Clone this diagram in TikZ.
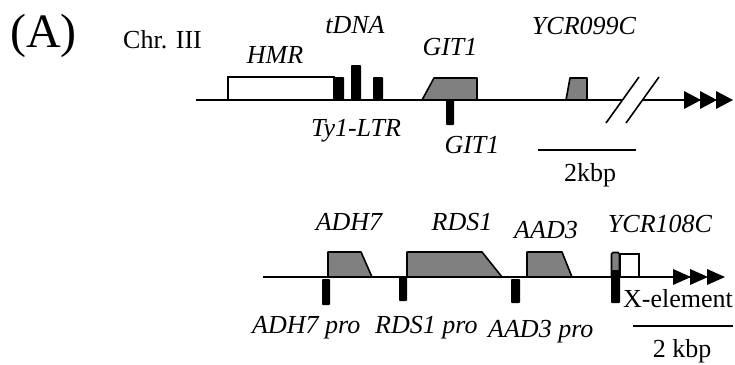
\documentclass[tikz,border=0pt]{standalone}
\usepackage{fontspec}
\setmainfont{Liberation Serif}
\newfontfamily\labfont{Liberation Serif}
\definecolor{genegray}{HTML}{808080}
\begin{document}
\begin{tikzpicture}[x=1pt,y=-1pt,
  lab/.style={font=\labfont\fontsize{26}{30}\selectfont\itshape, inner sep=0pt, anchor=base},
  rlab/.style={font=\labfont\fontsize{26}{30}\selectfont, inner sep=0pt, anchor=base},
  chrom/.style={line width=1.6pt},
  gene/.style={draw=black, line width=1.6pt, fill=genegray, line join=round},
  box/.style={draw=black, line width=1.6pt, fill=white},
  bar/.style={fill=black, rounded corners=0.8pt},
  scalebar/.style={line width=1.6pt},
  tri/.style={fill=black}
]
\useasboundingbox (0,0) rectangle (735,364);

% ---------- labels ----------
\node[font=\fontsize{48}{52}\selectfont, inner sep=0pt, anchor=base west] (A) at (10,47) {(A)};
\node[rlab, anchor=base west] (chr) at (123,48) {Chr. III};

% ---------- Chr. III row ----------
\coordinate (c1s) at (196,100);
\coordinate (c1b) at (622,100);
\coordinate (c1c) at (642,100);
\coordinate (c1e) at (700,100);
\draw[chrom] (c1s) -- (c1b);
\draw[chrom] (c1c) -- (c1e);
% break marks
\draw[line width=1.6pt] (606,123) -- (639,77);
\draw[line width=1.6pt] (626,123) -- (659,77);
% triple arrowhead
\fill[tri] (684,91) -- (701,100) -- (684,109) -- cycle;
\fill[tri] (700,91) -- (717,100) -- (700,109) -- cycle;
\fill[tri] (716,91) -- (733,100) -- (716,109) -- cycle;

\draw[box] (228,77) rectangle (334,100);
\fill[bar] (334,77) rectangle (344,100);
\fill[bar] (351,65) rectangle (361,100);
\fill[bar] (373,77) rectangle (383,100);
\draw[gene] (422,100) -- (434,78) -- (477,78) -- (477,100) -- cycle;
\fill[bar] (446,100) rectangle (454,125);
\draw[gene] (566,100) -- (570,78) -- (587,78) -- (587,100) -- cycle;

\node[lab] (hmr) at (275,63) {HMR};
\node[lab] (tdna) at (355,33) {tDNA};
\node[lab] (git1a) at (450,55) {GIT1};
\node[lab] (ycr099) at (584,34) {YCR099C};
\node[lab] (ty1) at (356,136) {Ty1-LTR};
\node[lab] (git1b) at (472,153) {GIT1};

\draw[scalebar] (538,150) -- (636,150);
\node[rlab] (kb1) at (590,181) {2kbp};

% ---------- second row ----------
\coordinate (c2s) at (263,277);
\coordinate (c2e) at (690,277);
\draw[chrom] (c2s) -- (c2e);
\fill[tri] (673,269) -- (691,277) -- (673,285) -- cycle;
\fill[tri] (690,269) -- (708,277) -- (690,285) -- cycle;
\fill[tri] (707,269) -- (725,277) -- (707,285) -- cycle;

\draw[gene] (328,277) -- (328,252) -- (361,252) -- (372,277) -- cycle;
\fill[bar] (322,279) rectangle (330,305);
\draw[gene] (407,277) -- (407,252) -- (482,252) -- (502,277) -- cycle;
\fill[bar] (399,276) rectangle (407,301);
\draw[gene] (527,277) -- (527,252) -- (562,252) -- (572,277) -- cycle;
\fill[bar] (511,279) rectangle (520,303);
\draw[box] (620,254) rectangle (639,277);
\draw[gene, rounded corners=1.5pt] (611.5,277) -- (611.5,252.5) -- (619.5,252.5) -- (619.5,277);
\fill[bar] (611,270) rectangle (620,303);

\node[lab] (adh7) at (349,230) {ADH7};
\node[lab] (rds1) at (462,230) {RDS1};
\node[lab] (aad3) at (546,238) {AAD3};
\node[lab] (ycr108) at (660,232) {YCR108C};
\node[rlab, anchor=base west] (xel) at (623,307) {X-element};
\node[lab, anchor=base west] (adh7p) at (252,333) {ADH7 pro};
\node[lab, anchor=base west] (rds1p) at (375,333) {RDS1 pro};
\node[lab, anchor=base west] (aad3p) at (488,337) {AAD3 pro};

\draw[scalebar] (633,326) -- (733,326);
\node[rlab] (kb2) at (682,357) {2 kbp};
\end{tikzpicture}
\end{document}
